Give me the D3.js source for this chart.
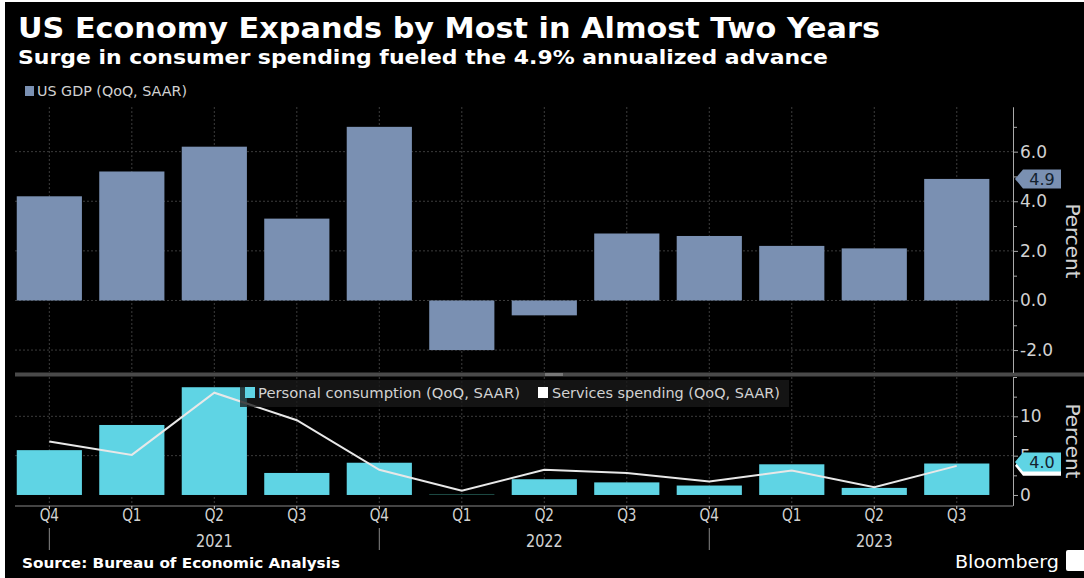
<!DOCTYPE html>
<html>
<head>
<meta charset="utf-8">
<script src="https://cdn.jsdelivr.net/npm/d3@7"></script>
<style>
  html, body { margin: 0; padding: 0; background: #fff; }
  svg { display: block; }
  .lbl { fill: #d2d2d2; font-family: "DejaVu Sans", sans-serif; }
</style>
</head>
<body>
<div id="chart"></div>
<script>
// data
const periods = ["2020Q4","2021Q1","2021Q2","2021Q3","2021Q4","2022Q1","2022Q2","2022Q3","2022Q4","2023Q1","2023Q2","2023Q3"];
const quarterLabels = ["Q4","Q1","Q2","Q3","Q4","Q1","Q2","Q3","Q4","Q1","Q2","Q3"];
const yearLabels = ["2021","2022","2023"];
const yearAt = ["2021Q2","2022Q2","2023Q2"];
const yearBreaks = ["2020Q4","2021Q4","2022Q4"];
const gdp = [4.2, 5.2, 6.2, 3.3, 7.0, -2.0, -0.6, 2.7, 2.6, 2.2, 2.1, 4.9];
const consumption = [5.7, 8.9, 13.7, 2.8, 4.1, 0.0, 2.0, 1.6, 1.2, 3.9, 0.9, 4.0];
const services = [6.8, 5.1, 13.0, 9.5, 3.2, 0.55, 3.2, 2.8, 1.7, 3.1, 1.0, 3.7];
const topTicks = [-2, 0, 2, 4, 6];
const topMinor = [-1, 1, 3, 5, 7];
const botTicks = [0, 5, 10];
const botMinor = [2.5, 7.5, 12.5, 15];

const width = 1084, height = 578;
const axisX = 1013;
const gdpColor = "#7a90b2", pceColor = "#5fd4e4";

const svg = d3.select("#chart").append("svg")
  .attr("width", width).attr("height", height);

svg.append("rect").attr("x", 5).attr("y", 2)
  .attr("width", width - 5).attr("height", height - 2).attr("fill", "#000");

let x = d3.scaleBand().domain(periods).range([8.5, 997.6])
  .paddingInner(0.21).paddingOuter(0.1);
let cx = p => x(p) + x.bandwidth() / 2;

let yTop = d3.scaleLinear().domain([-2.9, 7.8]).range([372.4, 107]);
let yBot = d3.scaleLinear().domain([-1.3, 15]).range([505.2, 377]);

let fmt1 = d => d3.format(".1f")(d).replace("\u2212", "-");

// titles
svg.append("text").attr("x", 18).attr("y", 38)
  .attr("fill", "#fff").attr("font-family", "DejaVu Sans, sans-serif")
  .attr("font-weight", "bold").attr("font-size", 28)
  .attr("textLength", 862).attr("lengthAdjust", "spacingAndGlyphs")
  .text("US Economy Expands by Most in Almost Two Years");

svg.append("text").attr("x", 18).attr("y", 64)
  .attr("fill", "#fff").attr("font-family", "DejaVu Sans, sans-serif")
  .attr("font-weight", "bold").attr("font-size", 19)
  .attr("textLength", 810).attr("lengthAdjust", "spacingAndGlyphs")
  .text("Surge in consumer spending fueled the 4.9% annualized advance");

// top legend
svg.append("rect").attr("x", 25).attr("y", 86).attr("width", 9).attr("height", 10).attr("fill", gdpColor);
svg.append("text").attr("class", "lbl").attr("x", 37).attr("y", 96)
  .attr("font-size", 14).attr("textLength", 150).attr("lengthAdjust", "spacingAndGlyphs")
  .text("US GDP (QoQ, SAAR)");

// grids
function vgrid(y0, y1) {
  svg.append("g").selectAll("line").data(periods).enter().append("line")
    .attr("x1", d => cx(d)).attr("x2", d => cx(d))
    .attr("y1", y0).attr("y2", y1)
    .attr("stroke", "#3c3c3c").attr("stroke-dasharray", "2,2");
}
function hgrid(vals, y) {
  svg.append("g").selectAll("line").data(vals).enter().append("line")
    .attr("x1", 15).attr("x2", axisX)
    .attr("y1", d => y(d)).attr("y2", d => y(d))
    .attr("stroke", "#3c3c3c").attr("stroke-dasharray", "2,2");
}
vgrid(107, 372);
hgrid(topTicks, yTop);
vgrid(377, 505);
hgrid([5, 10], yBot);

// GDP bars
svg.append("g").selectAll("rect").data(gdp).enter().append("rect")
  .attr("x", (d, i) => x(periods[i]))
  .attr("width", x.bandwidth())
  .attr("y", d => yTop(Math.max(0, d)))
  .attr("height", d => Math.abs(yTop(d) - yTop(0)))
  .attr("fill", gdpColor);

// consumption bars
svg.append("g").selectAll("rect").data(consumption).enter().append("rect")
  .attr("x", (d, i) => x(periods[i]))
  .attr("width", x.bandwidth())
  .attr("y", d => yBot(Math.max(0, d)) - (d === 0 ? 1 : 0))
  .attr("height", d => Math.max(1, Math.abs(yBot(d) - yBot(0))))
  .attr("fill", d => d === 0 ? "#1d4a44" : pceColor);

// services line
let line = d3.line().x((d, i) => cx(periods[i])).y(d => yBot(d));
svg.append("path").datum(services)
  .attr("d", line).attr("fill", "none")
  .attr("stroke", "#e8e8e8").attr("stroke-width", 2);

// bottom legend box
svg.append("rect").attr("x", 240).attr("y", 380).attr("width", 549).attr("height", 27)
  .attr("fill", "#1a1a1a").attr("opacity", 0.78);
svg.append("rect").attr("x", 245).attr("y", 387).attr("width", 10).attr("height", 11).attr("fill", pceColor);
svg.append("text").attr("class", "lbl").attr("x", 258).attr("y", 398)
  .attr("font-size", 14.5).attr("textLength", 262).attr("lengthAdjust", "spacingAndGlyphs")
  .text("Personal consumption (QoQ, SAAR)");
svg.append("rect").attr("x", 538).attr("y", 387).attr("width", 10).attr("height", 11).attr("fill", "#fff");
svg.append("text").attr("class", "lbl").attr("x", 552).attr("y", 398)
  .attr("font-size", 14.5).attr("textLength", 228).attr("lengthAdjust", "spacingAndGlyphs")
  .text("Services spending (QoQ, SAAR)");

// panel separator
svg.append("rect").attr("x", 15).attr("y", 372.5).attr("width", width - 15).attr("height", 4).attr("fill", "#4a4a4a");
svg.append("rect").attr("x", 545).attr("y", 373).attr("width", 18).attr("height", 3).attr("fill", "#777");

// right axes
function rightAxis(y, major, minor, format) {
  let g = svg.append("g").attr("transform", `translate(${axisX},0)`);
  g.call(d3.axisRight(y).tickValues(minor).tickSize(4).tickSizeOuter(0).tickFormat(""));
  let g2 = svg.append("g").attr("transform", `translate(${axisX},0)`);
  g2.call(d3.axisRight(y).tickValues(major).tickSize(5).tickSizeOuter(0).tickFormat(format));
  [g, g2].forEach(a => {
    a.selectAll("path,line").attr("stroke", "#aaa");
    a.selectAll("text").attr("class", "lbl").attr("fill", "#d2d2d2")
      .attr("font-size", 17).attr("x", 7);
  });
}
rightAxis(yTop, topTicks, topMinor, fmt1);
rightAxis(yBot, botTicks, botMinor, d3.format("d"));

[241, 441].forEach(yc => {
  svg.append("text").attr("class", "lbl")
    .attr("transform", `translate(1066,${yc}) rotate(90)`)
    .attr("text-anchor", "middle").attr("font-size", 20).text("Percent");
});

// last value callouts
function callout(yv, txt, fill, h) {
  let p = d3.path();
  p.moveTo(axisX + 2, yv);
  p.lineTo(axisX + 10, yv - h / 2);
  p.lineTo(axisX + 48, yv - h / 2);
  p.lineTo(axisX + 48, yv + h / 2);
  p.lineTo(axisX + 10, yv + h / 2);
  p.closePath();
  svg.append("path").attr("d", p.toString()).attr("fill", fill);
  if (txt) svg.append("text").attr("x", axisX + 29).attr("y", yv + 6)
    .attr("text-anchor", "middle").attr("font-family", "DejaVu Sans, sans-serif")
    .attr("font-size", 16).attr("fill", "#14222f").text(txt);
}
callout(yTop(gdp[11]), fmt1(gdp[11]), gdpColor, 19);
callout(yBot(services[11]), "", "#fff", 20);
callout(yBot(consumption[11]) - 1.5, fmt1(consumption[11]), pceColor, 19);

// x axis
svg.append("line").attr("x1", 15).attr("x2", axisX).attr("y1", 506).attr("y2", 506)
  .attr("stroke", "#444").attr("stroke-width", 2);
let xAxis = svg.append("g").attr("transform", "translate(0,506)")
  .call(d3.axisBottom(x).tickSize(3).tickFormat((d, i) => quarterLabels[i]));
xAxis.select(".domain").remove();
xAxis.selectAll("line").attr("stroke", "#ccc");
xAxis.selectAll("text").attr("class", "lbl").attr("fill", "#d2d2d2")
  .attr("font-size", 17).attr("dy", "0.55em").attr("y", 6)
  .attr("transform", "scale(0.8,1)");

svg.append("g").selectAll("line").data(yearBreaks).enter().append("line")
  .attr("x1", d => cx(d)).attr("x2", d => cx(d))
  .attr("y1", 528).attr("y2", 550).attr("stroke", "#888");

svg.append("g").selectAll("text").data(yearLabels).enter().append("text")
  .attr("class", "lbl")
  .attr("transform", (d, i) => `translate(${cx(yearAt[i])},547) scale(0.8,1)`)
  .attr("text-anchor", "middle").attr("font-size", 18).text(d => d);

// footer
svg.append("text").attr("x", 22).attr("y", 568)
  .attr("fill", "#fff").attr("font-family", "DejaVu Sans, sans-serif")
  .attr("font-weight", "bold").attr("font-size", 14)
  .attr("textLength", 318).attr("lengthAdjust", "spacingAndGlyphs")
  .text("Source: Bureau of Economic Analysis");

svg.append("text").attr("x", 955).attr("y", 568)
  .attr("fill", "#fff").attr("font-family", "DejaVu Sans, sans-serif")
  .attr("font-size", 18).attr("textLength", 104).attr("lengthAdjust", "spacingAndGlyphs")
  .text("Bloomberg");
svg.append("rect").attr("x", 1066).attr("y", 550).attr("width", 20).attr("height", 21)
  .attr("rx", 2).attr("fill", "#fff");
</script>
</body>
</html>
